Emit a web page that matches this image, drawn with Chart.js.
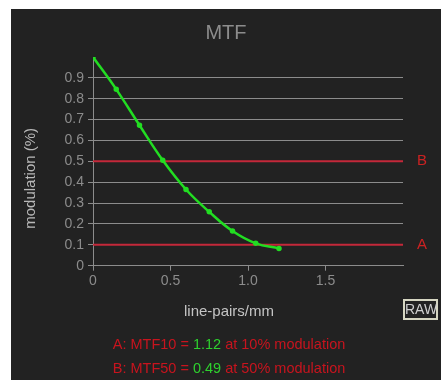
<!DOCTYPE html>
<html>
<head>
<meta charset="utf-8">
<script src="https://cdn.jsdelivr.net/npm/chart.js@4/dist/chart.umd.min.js"></script>
<style>
  body { margin: 0; background: #fff; font-family: "Liberation Sans", Arial, sans-serif; }
  #panel { position: absolute; left: 11px; top: 9px; width: 430px; height: 371px; background: #222; }
  #chart { position: absolute; left: 0; top: 0; }
  #raw { position: absolute; left: 392px; top: 290px; width: 31px; height: 17px; border: 2px solid #d6d6c2;
         color: #cfcfcf; font-size: 14px; line-height: 17px; text-align: center; }
  .res { position: absolute; left: 0; width: 436px; text-align: center; font-size: 14.5px; color: #c8141e; }
  .res b { font-weight: normal; color: #2ed02e; }
</style>
</head>
<body>
<div id="panel">
  <canvas id="chart" width="430" height="371"></canvas>
  <div id="raw">RAW</div>
  <div class="res" style="top:327px">A: MTF10 = <b>1.12</b> at 10% modulation</div>
  <div class="res" style="top:351px">B: MTF50 = <b>0.49</b> at 50% modulation</div>
</div>
<script>
// measured curve
const freq = [0, 0.15, 0.3, 0.45, 0.6, 0.75, 0.9, 1.05, 1.2];
const modulation = [1.0, 0.845, 0.673, 0.505, 0.365, 0.258, 0.166, 0.107, 0.083];

// threshold lines (A = 10%, B = 50%)
const thresholdNames = ['A', 'B'];
const thresholdLevels = [0.1, 0.5];
const xRange = [0, 2];

// tick labels
const xTicks = [0, 0.5, 1, 1.5];
const yTicks = [0, 0.1, 0.2, 0.3, 0.4, 0.5, 0.6, 0.7, 0.8, 0.9];

const gray = '#8c8c8c';
const fam = '"Liberation Sans", Arial, sans-serif';

const datasets = [{
    data: freq.map((f, i) => ({ x: f, y: modulation[i] })),
    borderColor: '#22dd22',
    backgroundColor: '#22dd22',
    borderWidth: 2.5,
    pointRadius: 1.5,
    tension: 0.4
}];
thresholdLevels.forEach(level => {
    datasets.push({
        data: xRange.map(x => ({ x: x, y: level })),
        borderColor: '#c4283a',
        borderWidth: 2,
        pointRadius: 0
    });
});

// axis titles and A/B labels
const extras = {
    id: 'extras',
    afterDraw(chart) {
        const ctx = chart.ctx;
        const area = chart.chartArea;
        const y = chart.scales.y;
        ctx.save();
        ctx.textAlign = 'center';
        ctx.textBaseline = 'middle';
        ctx.fillStyle = '#cc2222';
        ctx.font = '15px ' + fam;
        thresholdLevels.forEach((level, i) => {
            ctx.fillText(thresholdNames[i], area.right + 19, y.getPixelForValue(level));
        });
        ctx.fillStyle = '#c4c4c4';
        ctx.fillText('line-pairs/mm', chart.width / 2 + 3, 303);
        ctx.translate(20, (area.top + area.bottom) / 2 + 17);
        ctx.rotate(-Math.PI / 2);
        ctx.fillStyle = '#b8b8b8';
        ctx.fillText('modulation (%)', 0, 0);
        ctx.restore();
    }
};

new Chart(document.getElementById('chart'), {
    type: 'line',
    data: { datasets: datasets },
    plugins: [extras],
    options: {
        responsive: false,
        animation: false,
        layout: { padding: 0 },
        plugins: {
            legend: { display: false },
            tooltip: { enabled: false },
            title: {
                display: true,
                text: 'MTF',
                color: gray,
                font: { size: 20, family: fam, weight: 'normal' },
                padding: { top: 12, bottom: 12 }
            }
        },
        scales: {
            x: {
                type: 'linear',
                min: xRange[0],
                max: xRange[1],
                afterBuildTicks: s => { s.ticks = xTicks.map(v => ({ value: v })); },
                afterFit: s => { s.height = 114.3; },
                grid: { drawOnChartArea: false, color: gray, tickLength: 5 },
                border: { color: gray },
                ticks: { color: gray, padding: 2, font: { size: 14, family: fam } }
            },
            y: {
                min: 0,
                max: 1,
                afterBuildTicks: s => { s.ticks = yTicks.map(v => ({ value: v })); },
                afterFit: s => { s.width = 82; },
                grid: { color: gray, tickLength: 5 },
                border: { color: gray },
                ticks: { color: gray, padding: 4, font: { size: 14, family: fam } }
            },
            // empty right-hand strip that holds the A/B labels
            yRight: {
                position: 'right',
                min: 0,
                max: 1,
                afterFit: s => { s.width = 38; },
                grid: { display: false },
                border: { display: false },
                ticks: { display: false }
            }
        }
    }
});
</script>
</body>
</html>
